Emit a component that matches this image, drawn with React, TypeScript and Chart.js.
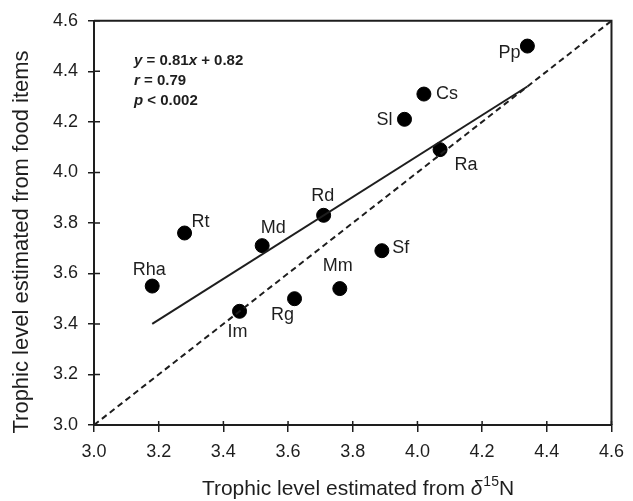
import React, { useEffect, useRef } from "react";
import { Chart, registerables } from "chart.js";

Chart.register(...registerables);

const speciesNames = ["Pp", "Cs", "Sl", "Ra", "Rd", "Md", "Rt", "Rha", "Im", "Rg", "Mm", "Sf"];
const deltaN = [4.34, 4.02, 3.96, 4.07, 3.71, 3.52, 3.28, 3.18, 3.45, 3.62, 3.76, 3.89];
const foodItems = [4.5, 4.31, 4.21, 4.09, 3.83, 3.71, 3.76, 3.55, 3.45, 3.5, 3.54, 3.69];
const regressionX = [3.18, 4.34];
const regressionY = [3.4, 4.34];
const identityX = [3.0, 4.6];
const identityY = [3.0, 4.6];
const axisTicks = [3.0, 3.2, 3.4, 3.6, 3.8, 4.0, 4.2, 4.4, 4.6];

// label offsets (pixels from dot centre to text centre)
const labelOffsets: Record<string, [number, number]> = {
  Pp: [-18, 6], Cs: [23, -1], Sl: [-20, 0], Ra: [26, 14], Rd: [-1, -20], Md: [11, -19],
  Rt: [16, -12], Rha: [-3, -17], Im: [-2, 20], Rg: [-12, 15], Mm: [-2, -24], Sf: [19, -4],
};

const FONT = "'Liberation Sans', Arial, sans-serif";
const INK = "#1e1e1e";

const decorPlugin = {
  id: "decor",
  afterDraw(chart: any) {
    const { ctx, chartArea, scales } = chart;
    const { left, right, top, bottom } = chartArea;
    ctx.save();
    // top & right border
    ctx.strokeStyle = INK;
    ctx.lineWidth = 2;
    ctx.beginPath();
    ctx.moveTo(left, top);
    ctx.lineTo(right, top);
    ctx.lineTo(right, bottom);
    ctx.stroke();
    // inner tick marks
    ctx.lineWidth = 1.5;
    ctx.beginPath();
    axisTicks.forEach((v) => {
      const px = scales.x.getPixelForValue(v);
      ctx.moveTo(px, bottom);
      ctx.lineTo(px, bottom - 4);
      const py = scales.y.getPixelForValue(v);
      ctx.moveTo(left, py);
      ctx.lineTo(left + 6, py);
    });
    ctx.stroke();

    // point labels
    ctx.fillStyle = INK;
    ctx.font = `18px ${FONT}`;
    ctx.textAlign = "center";
    ctx.textBaseline = "alphabetic";
    speciesNames.forEach((n, i) => {
      const px = scales.x.getPixelForValue(deltaN[i]);
      const py = scales.y.getPixelForValue(foodItems[i]);
      const off = labelOffsets[n] || [0, 0];
      ctx.fillText(n, px + off[0], py + off[1] + 6);
    });

    // annotation
    ctx.textAlign = "left";
    const drawParts = (parts: [string, boolean][], x: number, y: number) => {
      let cx = x;
      parts.forEach(([t, it]) => {
        ctx.font = `${it ? "italic " : ""}bold 15px ${FONT}`;
        ctx.fillText(t, cx, y);
        cx += ctx.measureText(t).width;
      });
    };
    const ax = left + 40;
    drawParts([["y", true], [" = 0.81", false], ["x", true], [" + 0.82", false]], ax, top + 44);
    drawParts([["r", true], [" = 0.79", false]], ax, top + 64);
    drawParts([["p", true], [" < 0.002", false]], ax, top + 84);

    // x axis title
    const TS = 21;
    ctx.font = `${TS}px ${FONT}`;
    const t1 = "Trophic level estimated from ";
    const w1 = ctx.measureText(t1).width;
    ctx.font = `italic ${TS}px ${FONT}`;
    const wd = ctx.measureText("δ").width;
    ctx.font = `14px ${FONT}`;
    const ws = ctx.measureText("15").width;
    ctx.font = `${TS}px ${FONT}`;
    const wn = ctx.measureText("N").width;
    const total = w1 + wd + ws + wn + 1;
    let tx = 358 - total / 2;
    const ty = 495;
    ctx.fillText(t1, tx, ty);
    tx += w1;
    ctx.font = `italic ${TS}px ${FONT}`;
    ctx.fillText("δ", tx, ty);
    tx += wd + 1;
    ctx.font = `14px ${FONT}`;
    ctx.fillText("15", tx, ty - 9);
    tx += ws;
    ctx.font = `${TS}px ${FONT}`;
    ctx.fillText("N", tx, ty);

    // y axis title
    ctx.save();
    ctx.translate(28, 242);
    ctx.rotate(-Math.PI / 2);
    ctx.textAlign = "center";
    ctx.font = `22px ${FONT}`;
    ctx.fillText("Trophic level estimated from food items", 0, 0);
    ctx.restore();
    ctx.restore();
  },
};

export default function App() {
  const ref = useRef<HTMLCanvasElement | null>(null);
  useEffect(() => {
    if (!ref.current) return;
    const chart = new Chart(ref.current, {
      type: "scatter",
      data: {
        datasets: [
          {
            type: "line",
            data: identityX.map((x, i) => ({ x, y: identityY[i] })),
            borderColor: INK,
            borderWidth: 2,
            borderDash: [6, 4],
            pointRadius: 0,
            fill: false,
          },
          {
            type: "line",
            data: regressionX.map((x, i) => ({ x, y: regressionY[i] })),
            borderColor: INK,
            borderWidth: 2,
            pointRadius: 0,
            fill: false,
          },
          {
            data: deltaN.map((x, i) => ({ x, y: foodItems[i] })),
            backgroundColor: "#000",
            borderColor: "#000",
            pointRadius: 7,
            pointHoverRadius: 7,
          },
        ] as any,
      },
      options: {
        animation: false,
        responsive: false,
        maintainAspectRatio: false,
        layout: { padding: { top: 19, right: 17, left: 0, bottom: 0 } },
        plugins: { legend: { display: false }, tooltip: { enabled: false } },
        scales: {
          x: {
            type: "linear",
            min: 3,
            max: 4.6,
            afterBuildTicks: (s: any) => { s.ticks = axisTicks.map((v) => ({ value: v })); },
            afterFit: (s: any) => { s.height = 76; },
            ticks: {
              callback: (v: any) => Number(v).toFixed(1),
              font: { family: FONT, size: 18 },
              color: INK,
              padding: 9,
            },
            grid: { drawOnChartArea: false, drawTicks: true, tickLength: 7, color: INK, lineWidth: 1.5 },
            border: { display: true, color: INK, width: 2 },
          },
          y: {
            type: "linear",
            min: 3,
            max: 4.6,
            afterBuildTicks: (s: any) => { s.ticks = axisTicks.map((v) => ({ value: v })); },
            afterFit: (s: any) => { s.width = 94; },
            ticks: {
              callback: (v: any) => Number(v).toFixed(1),
              font: { family: FONT, size: 18 },
              color: INK,
              padding: 10,
            },
            grid: { drawOnChartArea: false, drawTicks: true, tickLength: 6, color: INK, lineWidth: 1.5 },
            border: { display: true, color: INK, width: 2 },
          },
        },
      },
      plugins: [decorPlugin],
    });
    return () => chart.destroy();
  }, []);
  return (
    <div style={{ position: "fixed", left: 0, top: 0, width: 633, height: 501, background: "#fff" }}>
      <canvas ref={ref} width={633} height={501} style={{ width: 633, height: 501 }} />
    </div>
  );
}
